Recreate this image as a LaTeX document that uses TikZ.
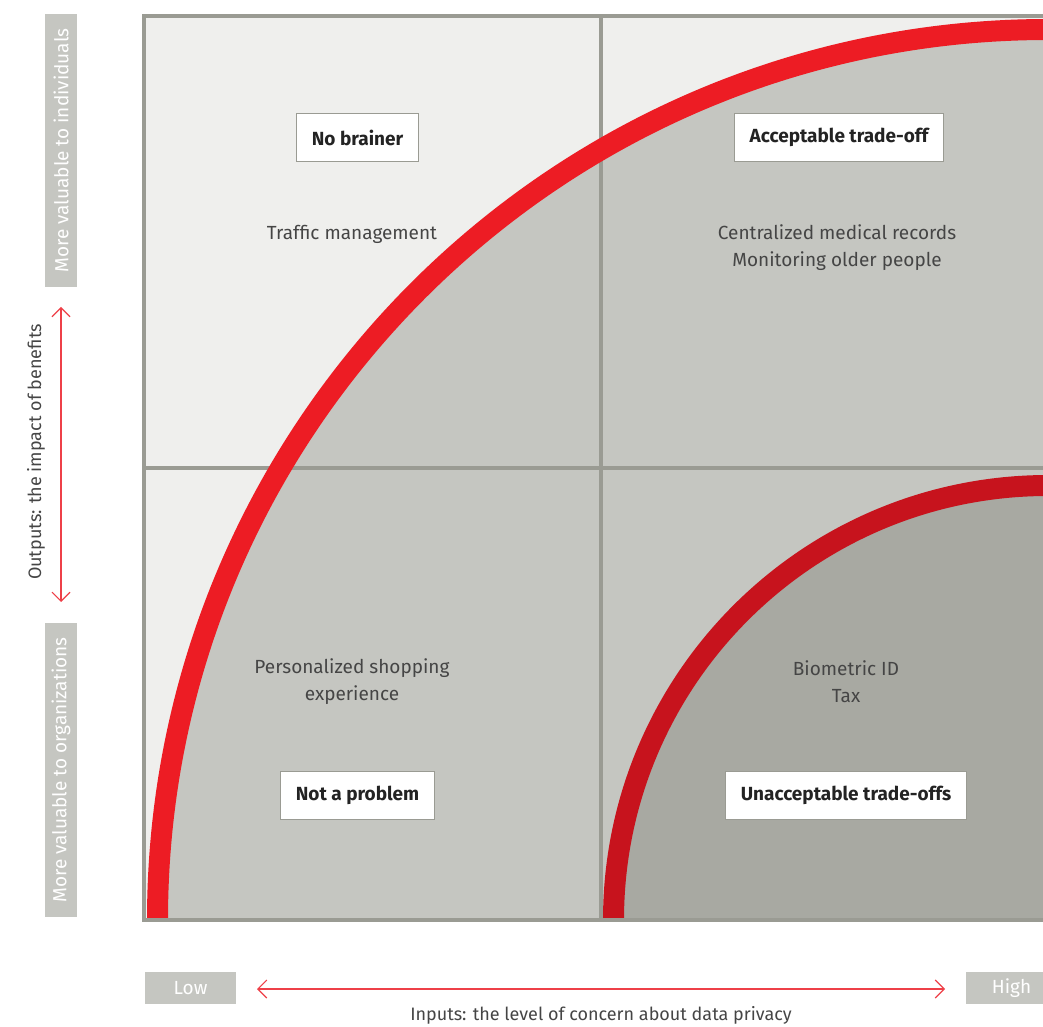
\documentclass[tikz,border=0pt]{standalone}
\usepackage{fontspec}
\setmainfont{Fira Sans}
\usetikzlibrary{arrows.meta,positioning}

\definecolor{paper}{HTML}{EFEFED}
\definecolor{midgray}{HTML}{C5C6C1}
\definecolor{darkgray}{HTML}{A8A9A2}
\definecolor{framegray}{HTML}{9A9B93}
\definecolor{bigred}{HTML}{ED1C24}
\definecolor{smallred}{HTML}{C7131D}
\definecolor{arrowred}{HTML}{EE4048}
\definecolor{bodytext}{HTML}{454545}
\definecolor{labeltext}{HTML}{232323}

\tikzset{
  quadlabel/.style={draw=framegray, fill=white, line width=1.2pt, text=labeltext,
    font=\bfseries\fontsize{19}{23}\selectfont, minimum height=48pt, inner xsep=15pt},
  example/.style={text=bodytext, align=center, font=\fontsize{19}{27}\selectfont},
  axisbox/.style={fill=midgray, text=white, inner sep=0pt, minimum height=32pt,
    font=\fontsize{19}{23}\selectfont},
  axistext/.style={text=bodytext, font=\fontsize{18}{22}\selectfont},
  axisarrow/.style={draw=arrowred, line width=1.1pt,
    {Straight Barb[length=9pt,width=18pt]}-{Straight Barb[length=9pt,width=18pt]}},
  gridline/.style={draw=framegray, line width=4pt},
}

\begin{document}
\begin{tikzpicture}[x=1pt, y=1pt]
  \useasboundingbox (0,0) rectangle (1043,1026);
  \clip (0,0) rectangle (1043,1026);

  % corner the arcs are centred on
  \coordinate (corner) at (1048,106);

  % quadrant background and the two quarter discs
  \fill[paper] (144,106) rectangle (1048,1009.5);
  \fill[midgray] (corner) -- ++(-890.5,0) arc[start angle=180, end angle=90, radius=890.5] -- cycle;
  \fill[darkgray] (corner) -- ++(-434.5,0) arc[start angle=180, end angle=90, radius=434.5] -- cycle;

  % grid
  \draw[gridline] (600.5,106) -- (600.5,1009.5);
  \draw[gridline] (144,558) -- (1048,558);

  % red bands
  \draw[bigred, line width=21pt] (corner) ++(-890.5,0) arc[start angle=180, end angle=90, radius=890.5];
  \draw[smallred, line width=21pt] (corner) ++(-434.5,0) arc[start angle=180, end angle=90, radius=434.5];

  % outer frame
  \draw[gridline] (1048,1009.5) -- (144,1009.5) -- (144,106) -- (1048,106);

  % quadrant labels
  \node[quadlabel] (nobrainer)    at (357.5,888.5) {No brainer};
  \node[quadlabel] (acceptable)   at (839,888.5)   {Acceptable trade-off};
  \node[quadlabel] (noproblem)    at (357.5,230.5) {Not a problem};
  \node[quadlabel] (unacceptable) at (846,230.5)   {Unacceptable trade-offs};

  % examples
  \node[example] (traffic)  at (352,792)   {Traffic management};
  \node[example] (medical)  at (837,778.5) {Centralized medical records\\Monitoring older people};
  \node[example] (shopping) at (352,344.5) {Personalized shopping\\experience};
  \node[example] (biometric) at (846,344.5) {Biometric ID\\Tax};

  % vertical axis
  \node[axisbox, rotate=90, minimum width=273pt] (individuals)   at (61,875.5) {More valuable to individuals};
  \node[axisbox, rotate=90, minimum width=294pt] (organizations) at (61,256)   {More valuable to organizations};
  \coordinate (vtop) at (61,719);
  \coordinate (vbot) at (61,424);
  \draw[axisarrow] (vtop) -- (vbot);
  \node[axistext, rotate=90] (outputs) at (36,574) {Outputs: the impact of benefits};

  % horizontal axis
  \node[axisbox, minimum width=91pt] (low)  at (190.5,38) {Low};
  \node[axisbox, minimum width=91pt] (high) at (1011.5,38) {High};
  \coordinate (hleft) at (257,37);
  \coordinate (hright) at (945,37);
  \draw[axisarrow] (hleft) -- (hright);
  \node[axistext] (inputs) at (601,11) {Inputs: the level of concern about data privacy};
\end{tikzpicture}
\end{document}
